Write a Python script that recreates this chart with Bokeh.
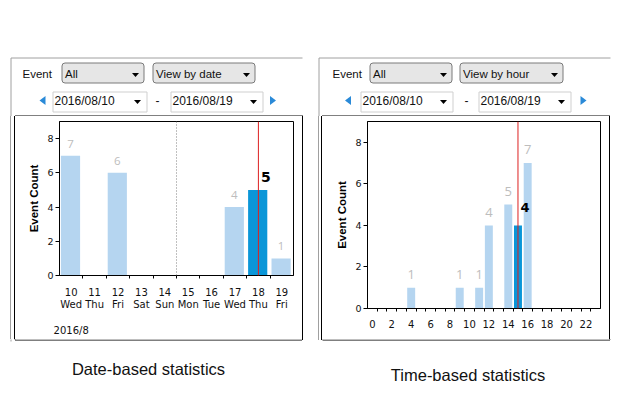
from bokeh.plotting import figure
from bokeh.models import Range1d, FixedTicker, Span, ColumnDataSource, LabelSet, Label, Div
from bokeh.layouts import row, column
from bokeh.core.properties import value
from bokeh.embed import file_html
from bokeh.resources import INLINE

# ---------------- data ----------------
dates = ["10", "11", "12", "13", "14", "15", "16", "17", "18", "19"]
weekdays = ["Wed", "Thu", "Fri", "Sat", "Sun", "Mon", "Tue", "Wed", "Thu", "Fri"]
date_counts = [7, 0, 6, 0, 0, 0, 0, 4, 5, 1]
selected_date = "18"
week_break_after = "14"
month_label = "2016/8"

hours = list(range(24))
hour_counts = [0, 0, 0, 0, 1, 0, 0, 0, 0, 1, 0, 1, 4, 0, 5, 4, 7, 0, 0, 0, 0, 0, 0, 0]
selected_hour = 15
hour_tick_labels = [0, 2, 4, 6, 8, 10, 12, 14, 16, 18, 20, 22]

y_ticks = [0, 2, 4, 6, 8]
y_max = 9
y_title = "Event Count"

event_label = "Event"
event_choice = "All"
view_left = "View by date"
view_right = "View by hour"
date_from = "2016/08/10"
date_to = "2016/08/19"
captions = ["Date-based statistics", "Time-based statistics"]

# ---------------- styles ----------------
LIGHT = "#b5d5f0"
DARK = "#0a96d8"
LABEL_GRAY = "#bdbdbd"
RED = "#dd2020"
FRAME_GRAY = "#a0a0a0"
UI_FONT = "Liberation Sans"
AX_FONT = "DejaVu Sans"

panels = [
    dict(event_x=22, dd=[(61, 144, event_choice), (152, 255, view_left)],
         larrow=39, dates=[(52, 147, date_from), (170, 263, date_to)], dash=157,
         rarrow=269.5, frame_x=10, frame_right=302, box=(14, 302),
         caption=captions[0], cap_x=148, cap_y=368.5),
    dict(event_x=332, dd=[(369, 452, event_choice), (459, 563, view_right)],
         larrow=344.5, dates=[(360, 453, date_from), (478, 571, date_to)], dash=466,
         rarrow=580, frame_x=318, frame_right=610, box=(321, 609),
         caption=captions[1], cap_x=467.5, cap_y=374.5),
]


def draw_ui(p, ox, oy, w, h):
    def inside(x, y):
        return ox <= x < ox + w and oy <= y < oy + h

    def txt(x, y, t, size, align="left"):
        if inside(x, y):
            p.text(x=[x], y=[y], text=[t], text_font=value(UI_FONT), text_font_size=size,
                   text_baseline="middle", text_align=align, text_color="#111111")

    for pn in panels:
        fx = pn["frame_x"] + 0.5
        p.line([fx, fx, pn["frame_right"]], [341, 57.5, 57.5], line_color=FRAME_GRAY, line_width=1)
        b0, b1 = pn["box"]
        p.quad(left=b0 + 0.5, right=b1 + 0.5, top=115.5, bottom=339.5,
               fill_color=None, line_color="black", line_width=1)
        txt(pn["event_x"], 73, event_label, "11.5px")
        arr_xs, arr_ys = [], []
        for (l, r, t) in pn["dd"]:
            p.quad(left=l + 0.5, right=r - 0.5, top=62.5, bottom=82.5, fill_color="#e6e6e6",
                   line_color="#7a7a7a", border_radius=3)
            txt(l + 3.5, 73, t, "11.5px")
            cx = r - 9
            arr_xs.append([cx - 3.5, cx + 3.5, cx]); arr_ys.append([72.5, 72.5, 76.5])
        for (l, r, t) in pn["dates"]:
            p.quad(left=l + 0.5, right=r - 0.5, top=91.5, bottom=111.5, fill_color="white",
                   line_color="#cfcfcf")
            txt(l + 2, 100, t, "12px")
            cx = r - 10
            arr_xs.append([cx - 3.5, cx + 3.5, cx]); arr_ys.append([99.5, 99.5, 103.5])
        txt(pn["dash"], 100, "-", "12px", "center")
        p.patches(arr_xs, arr_ys, fill_color="black", line_color=None)
        a = pn["larrow"]
        b = pn["rarrow"]
        p.patches([[a, a + 6, a + 6], [b, b, b + 6]], [[100, 95.5, 104.5], [95.5, 104.5, 100]],
                  fill_color="#2a8ad8", line_color=None)
        txt(pn["cap_x"], pn["cap_y"], pn["caption"], "16.5px", "center")


def canvas(ox, oy, w, h):
    p = figure(width=w, height=h, x_range=Range1d(ox, ox + w), y_range=Range1d(oy + h, oy),
               output_backend="svg", toolbar_location=None, min_border=0,
               x_axis_location=None, y_axis_location=None)
    p.grid.visible = False
    p.outline_line_color = None
    p.background_fill_color = "white"
    p.border_fill_color = "white"
    draw_ui(p, ox, oy, w, h)
    return p


def strip(w, h, lines):
    rects = "".join(f'<rect x="{x}" y="0" width="1" height="{h}" fill="{c}"/>' for x, c in lines)
    return Div(width=w, height=h, margin=0,
               text=f'<svg width="{w}" height="{h}" style="display:block">{rects}</svg>')


def style_chart(p):
    p.grid.visible = False
    p.outline_line_color = "black"
    p.background_fill_color = "white"
    p.border_fill_color = "white"
    ya = p.yaxis[0]
    ya.ticker = FixedTicker(ticks=y_ticks)
    ya.major_tick_out = 4
    ya.major_tick_in = 0
    ya.minor_tick_out = 0
    ya.minor_tick_in = 0
    ya.major_label_standoff = 2
    ya.major_label_text_font = AX_FONT
    ya.major_label_text_font_size = "9.5px"
    ya.major_label_text_color = "#111111"
    ya.axis_label = y_title
    ya.axis_label_text_font = UI_FONT
    ya.axis_label_text_font_size = "11.5px"
    ya.axis_label_text_font_style = "bold"
    ya.axis_label_text_color = "black"
    ya.axis_label_standoff = 4
    xa = p.xaxis[0]
    xa.major_tick_out = 0
    xa.major_tick_in = 0
    xa.minor_tick_out = 3
    xa.minor_tick_in = 0
    xa.major_label_text_font = AX_FONT
    xa.major_label_text_font_size = "10px"
    xa.major_label_text_color = "#111111"


# ---------------- left chart (by date) ----------------
n = len(dates)
sel_d = dates.index(selected_date)
pl = figure(width=287, height=223, x_range=Range1d(-0.5, n - 0.5), y_range=Range1d(0, y_max),
            output_backend="svg", toolbar_location=None,
            min_border_left=44, min_border_right=9, min_border_top=5, min_border_bottom=62)
style_chart(pl)
xa = pl.xaxis[0]
xa.ticker = FixedTicker(ticks=list(range(n)), minor_ticks=[i + 0.5 for i in range(n - 1)])
tick_text = {i: f"{d}\n{w}" for i, (d, w) in enumerate(zip(dates, weekdays))}
tick_text[0] = tick_text[0] + "\n\n" + month_label
xa.major_label_overrides = tick_text
xa.major_label_text_line_height = 1.17
xa.major_label_standoff = 8

pl.vbar(x=[i - 0.03 for i in range(n)], top=date_counts, width=0.82,
        fill_color=[DARK if i == sel_d else LIGHT for i in range(n)], line_color=None)
pl.add_layout(Span(location=dates.index(week_break_after) + 0.5, dimension="height",
                   line_color="#808080", line_dash="1 2", line_width=1))
pl.add_layout(Span(location=sel_d, dimension="height", line_color=RED, line_width=1))
idx = [i for i, c in enumerate(date_counts) if c > 0 and i != sel_d]
src = ColumnDataSource(dict(x=[i - 0.03 for i in idx], y=[date_counts[i] for i in idx],
                            t=[str(date_counts[i]) for i in idx]))
pl.add_layout(LabelSet(x="x", y="y", text="t", source=src, text_align="center",
                       text_baseline="middle", y_offset=12.2, text_font=value("Open Sans"),
                       text_font_size="11.5px", text_color=LABEL_GRAY))
pl.add_layout(Label(x=sel_d, y=date_counts[sel_d], text=str(date_counts[sel_d]), x_offset=2.5,
                    y_offset=12.8, text_align="left", text_baseline="middle", text_font=AX_FONT,
                    text_font_style="bold", text_font_size="14px", text_color="black"))

# ---------------- right chart (by hour) ----------------
m = len(hours)
pr = figure(width=287, height=223, x_range=Range1d(-0.5, m - 0.5), y_range=Range1d(0, y_max),
            output_backend="svg", toolbar_location=None,
            min_border_left=45, min_border_right=9, min_border_top=5, min_border_bottom=31)
style_chart(pr)
xa = pr.xaxis[0]
xa.ticker = FixedTicker(ticks=hour_tick_labels, minor_ticks=[h + 0.5 for h in hours[:-1]])
xa.major_label_standoff = 8
pr.vbar(x=hours, top=hour_counts, width=0.82,
        fill_color=[DARK if h == selected_hour else LIGHT for h in hours], line_color=None)
pr.add_layout(Span(location=selected_hour, dimension="height", line_color=RED, line_width=1))
idx = [h for h, c in zip(hours, hour_counts) if c > 0 and h != selected_hour]
src = ColumnDataSource(dict(x=idx, y=[hour_counts[h] for h in idx], t=[str(hour_counts[h]) for h in idx]))
pr.add_layout(LabelSet(x="x", y="y", text="t", source=src, text_align="center",
                       text_baseline="middle", y_offset=13.3, text_font=value("Open Sans"),
                       text_font_size="13px", text_color=LABEL_GRAY))
pr.add_layout(Label(x=selected_hour, y=hour_counts[selected_hour], text=str(hour_counts[selected_hour]),
                    x_offset=2.5, y_offset=18.3, text_align="left", text_baseline="middle",
                    text_font=AX_FONT, text_font_style="bold", text_font_size="13px",
                    text_color="black"))

# ---------------- layout ----------------
top = canvas(0, 0, 625, 116)
left_strip = strip(15, 223, [(10, FRAME_GRAY), (14, "black")])
mid_strip = strip(20, 224, [(0, "black"), (16, FRAME_GRAY), (19, "black")])
right_strip = strip(16, 223, [(0, "black")])
bottom_left = canvas(0, 339, 302, 78)
bottom_right = canvas(322, 339, 303, 78)

left_col = column(row(left_strip, pl, spacing=0), bottom_left, spacing=0)
mid_col = column(mid_strip, spacing=0)
right_col = column(row(pr, right_strip, spacing=0), bottom_right, spacing=0)
layout = column(top, row(left_col, mid_col, right_col, spacing=0), spacing=0)

open("out.html", "w").write(file_html(layout, INLINE))
